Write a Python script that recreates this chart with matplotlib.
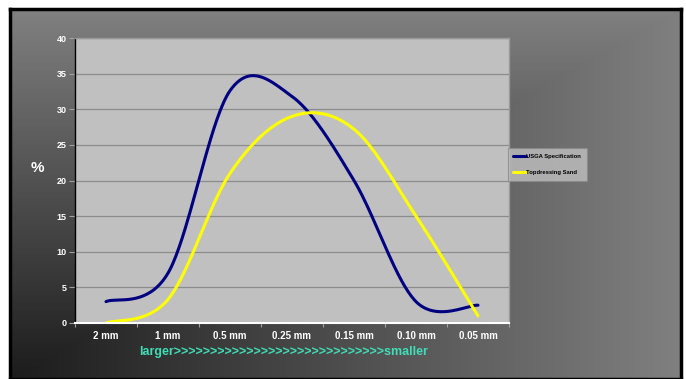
import matplotlib.pyplot as plt
import numpy as np

plt.rcParams['font.family'] = ['Liberation Sans', 'DejaVu Sans']

sizes = ['2 mm', '1 mm', '0.5 mm', '0.25 mm', '0.15 mm', '0.10 mm', '0.05 mm']
usga = [3.0, 7.0, 32.6, 31.8, 20.0, 3.0, 2.5]
topdressing = [0.0, 3.3, 21.0, 29.0, 27.2, 15.0, 1.0]
yticks = [0, 5, 10, 15, 20, 25, 30, 35, 40]

W, H = 686, 379


def smooth(xs, ys, n=40):
    # bezier smoothing through every point (same as a "smoothed line" chart)
    xs = np.asarray(xs, float)
    ys = np.asarray(ys, float)
    px = np.concatenate([[xs[0]], xs, [xs[-1]]])
    py = np.concatenate([[ys[0]], ys, [ys[-1]]])
    ox, oy = [], []
    t = np.linspace(0, 1, n)[:, None]
    for i in range(1, len(px) - 2):
        p0 = np.array([px[i], py[i]])
        p3 = np.array([px[i + 1], py[i + 1]])
        c1 = p0 + (np.array([px[i + 1], py[i + 1]]) - np.array([px[i - 1], py[i - 1]])) / 6
        c2 = p3 - (np.array([px[i + 2], py[i + 2]]) - np.array([px[i], py[i]])) / 6
        pts = ((1 - t) ** 3) * p0 + 3 * ((1 - t) ** 2) * t * c1 + 3 * (1 - t) * t ** 2 * c2 + t ** 3 * p3
        ox.extend(pts[:, 0])
        oy.extend(pts[:, 1])
    return np.array(ox), np.array(oy)


fig = plt.figure(figsize=(W / 100, H / 100), dpi=100)
fig.patch.set_facecolor('white')

# dark corner gradient behind the chart
bg = fig.add_axes([10 / W, 0, 671 / W, 370 / H], zorder=0)
gx = np.linspace(0, 1, 400)
gy = np.linspace(0, 1, 300)
U, V = np.meshgrid(gx, gy)
shade = 0x1c / 255 + (0x80 - 0x1c) / 255 * np.maximum(U, V)
bg.imshow(np.dstack([shade] * 3), origin='lower', aspect='auto', extent=[0, 1, 0, 1])
bg.set_xticks([])
bg.set_yticks([])
for s in bg.spines.values():
    s.set_color('black')
    s.set_linewidth(2.5)

ax = fig.add_axes([75 / W, 1 - 323 / H, 434 / W, 285 / H], zorder=1)
ax.set_facecolor('#C0C0C0')

x = np.arange(len(sizes))
bx, by = smooth(x, usga)
tx, ty = smooth(x, topdressing)
ax.plot(bx, by, color='#000080', lw=2.2, solid_capstyle='round', label='USGA Specification', zorder=3)
ax.plot(tx, ty, color='#FFFF00', lw=2.2, solid_capstyle='round', label='Topdressing Sand', zorder=3)

ax.set_xlim(-0.5, len(sizes) - 0.5)
ax.set_ylim(0, 40)
ax.set_yticks(yticks)
ax.set_yticklabels([str(v) for v in yticks], fontsize=6.5, fontweight='bold', color='white')
ax.set_xticks(x)
ax.set_xticklabels(sizes, fontsize=7, fontweight='bold', color='white')
ax.set_xticks(np.arange(-0.5, len(sizes), 1), minor=True)
ax.tick_params(axis='x', which='major', length=0, pad=5.5)
ax.tick_params(axis='x', which='minor', length=3, color='#A0A0A0', width=0.8)
ax.tick_params(axis='y', length=4, color='#A0A0A0', width=0.8, pad=2)
ax.grid(axis='y', color='#8C8C8C', lw=0.9)
ax.set_axisbelow(True)

ax.spines['left'].set_color('black')
ax.spines['left'].set_linewidth(1.0)
ax.spines['bottom'].set_color('white')
ax.spines['bottom'].set_linewidth(1.5)
ax.spines['bottom'].set_zorder(4)
for s in ('top', 'right'):
    ax.spines[s].set_color('#9A9A9A')
    ax.spines[s].set_linewidth(1.0)

fig.text(37 / W, 1 - 168 / H, '%', fontsize=11, fontweight='bold', color='white',
         ha='center', va='center')
fig.text(284 / W, 1 - 352 / H, 'larger' + '>' * 29 + 'smaller', fontsize=9,
         fontweight='bold', color='#40DDB6', ha='center', va='center')

leg = fig.legend(loc='center left', bbox_to_anchor=(508 / W, 1 - 164.5 / H),
                 prop={'weight': 'bold', 'size': 4.2},
                 frameon=True, fancybox=False, handlelength=2.2, handletextpad=0.05,
                 borderpad=0.9, labelspacing=2.0, borderaxespad=0)
leg.get_frame().set_facecolor('#C0C0C0')
leg.get_frame().set_edgecolor('#8A8A8A')
leg.get_frame().set_linewidth(0.8)
leg.set_zorder(5)

fig.savefig('out.png', dpi=100, facecolor='white')
